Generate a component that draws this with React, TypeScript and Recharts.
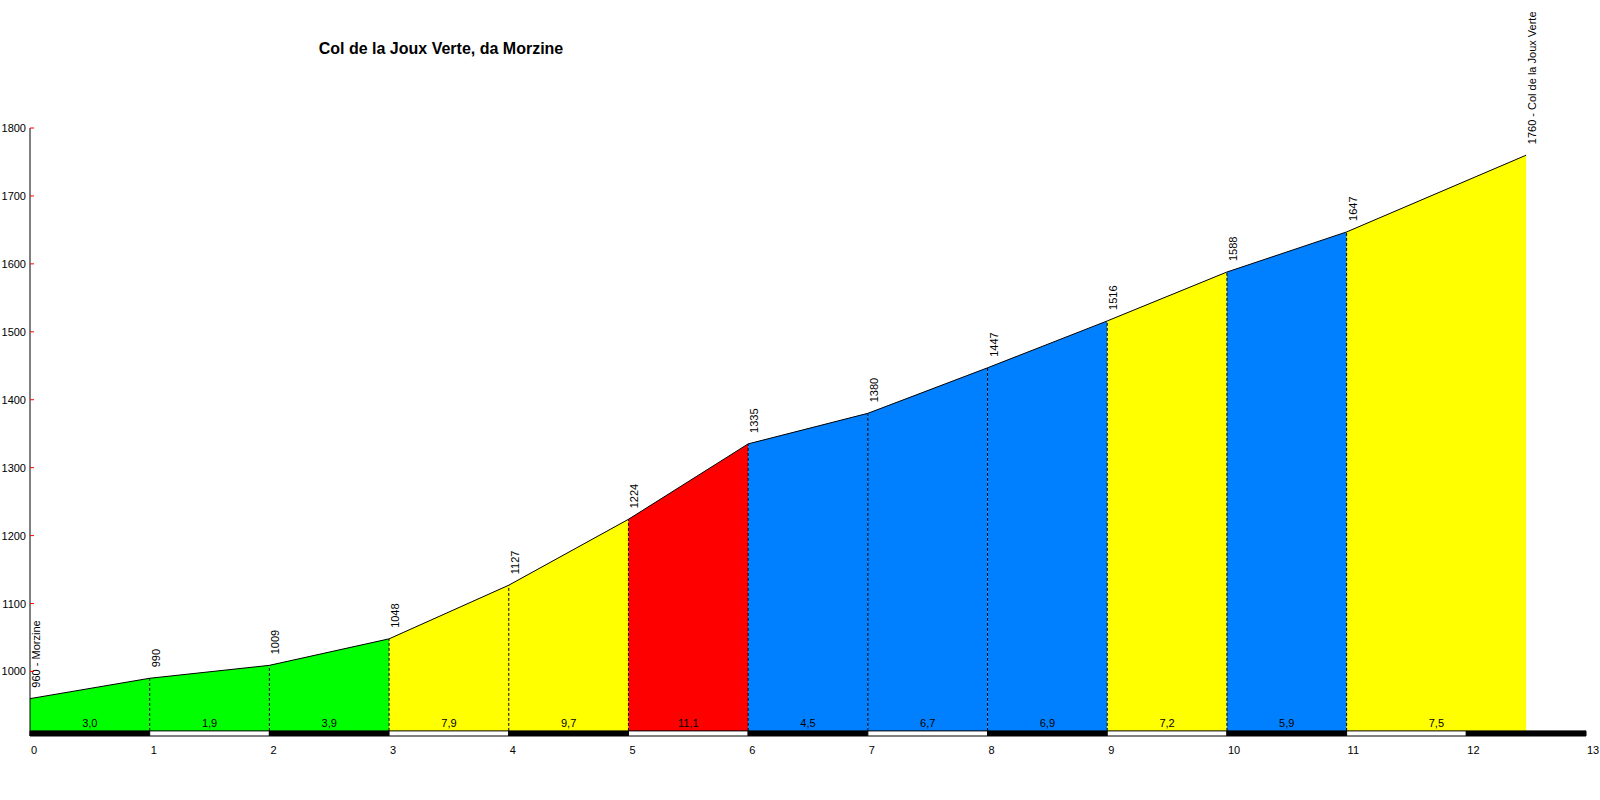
import { ComposedChart, Area, Line, Scatter, XAxis, YAxis, ReferenceLine, ReferenceArea } from 'recharts';

const KM = [0, 1, 2, 3, 4, 5, 6, 7, 8, 9, 10, 11, 12.5];
const ELEV = [960, 990, 1009, 1048, 1127, 1224, 1335, 1380, 1447, 1516, 1588, 1647, 1760];
const PLACES = ['Morzine', '', '', '', '', '', '', '', '', '', '', '', 'Col de la Joux Verte'];
const GRADIENTS = ['3,0', '1,9', '3,9', '7,9', '9,7', '11,1', '4,5', '6,7', '6,9', '7,2', '5,9', '7,5'];
const SEG_COLORS = ['#00ff00', '#00ff00', '#00ff00', '#ffff00', '#ffff00', '#ff0000', '#0080ff', '#0080ff', '#0080ff', '#ffff00', '#0080ff', '#ffff00'];
const X_TICKS = [0, 1, 2, 3, 4, 5, 6, 7, 8, 9, 10, 11, 12, 13];
const Y_TICKS = [1000, 1100, 1200, 1300, 1400, 1500, 1600, 1700, 1800];

const FONT = '"Liberation Sans", Arial, sans-serif';
const Y_MIN = 905;
const BAR_TOP = 912.5;

const profile = KM.map((km, i) => ({ km, elev: ELEV[i], place: PLACES[i] }));
const segments = GRADIENTS.map((g, i) => ({
  color: SEG_COLORS[i],
  data: [profile[i], profile[i + 1]],
}));
const gradLabels = GRADIENTS.map((g, i) => ({ km: (KM[i] + KM[i + 1]) / 2, elev: BAR_TOP, label: g }));
const kmBlocks = X_TICKS.slice(0, -1).map((k, i) => ({ x1: k, x2: k + 1, fill: i % 2 === 0 ? '#000' : '#fff' }));

const YTick = ({ x, y, payload }: any) => (
  <g>
    <line x1={x} y1={y} x2={x + 4} y2={y} stroke="#ff0000" />
    <text x={x - 4} y={y} textAnchor="end" dominantBaseline="central" fontSize={11} fontFamily={FONT} fill="#000">
      {payload.value}
    </text>
  </g>
);

const XTick = ({ x, y, payload }: any) => (
  <text x={x + 1} y={y + 14} textAnchor="start" dominantBaseline="central" fontSize={11} fontFamily={FONT} fill="#000">
    {payload.value}
  </text>
);

// rotated elevation labels sitting above each point
const elevLabel = (props: any) => {
  const { cx, cy, index, payload } = props;
  const tx = cx + 10;
  const ty = cy - 11;
  const txt = payload.place ? `${payload.elev} - ${payload.place}` : `${payload.elev}`;
  return (
    <text key={`el-${index}`} x={tx} y={ty} transform={`rotate(-90, ${tx}, ${ty})`} textAnchor="start" fontSize={11} fontFamily={FONT} fill="#000">
      {txt}
    </text>
  );
};

const gradShape = (props: any) => (
  <text x={props.cx} y={props.cy - 3.5} textAnchor="middle" fontSize={11} fontFamily={FONT} fill="#000">
    {props.payload.label}
  </text>
);

export default function App() {
  return (
    <div style={{ position: 'absolute', left: 0, top: 0, width: 1600, height: 800, background: '#fff' }}>
      <div
        style={{
          position: 'absolute',
          left: 441,
          top: 49,
          transform: 'translate(-50%, -50%)',
          whiteSpace: 'nowrap',
          fontFamily: FONT,
          fontWeight: 'bold',
          fontSize: 16,
          color: '#000',
        }}
      >
        Col de la Joux Verte, da Morzine
      </div>
      <ComposedChart width={1600} height={800} margin={{ top: 128, right: 14, left: 0, bottom: 34 }}>
        <XAxis
          type="number"
          dataKey="km"
          domain={[0, 13]}
          ticks={X_TICKS}
          axisLine={false}
          tickLine={false}
          tickSize={0}
          tickMargin={0}
          tick={<XTick />}
          height={30}
        />
        <YAxis
          type="number"
          dataKey="elev"
          domain={[Y_MIN, 1800]}
          ticks={Y_TICKS}
          width={30}
          axisLine={{ stroke: '#000' }}
          tickLine={false}
          tickSize={0}
          tickMargin={0}
          tick={<YTick />}
        />
        {segments.map((s, i) => (
          <Area
            key={`seg-${i}`}
            data={s.data}
            dataKey="elev"
            type="linear"
            stroke="none"
            fill={s.color}
            fillOpacity={1}
            baseValue={BAR_TOP}
            isAnimationActive={false}
          />
        ))}
        {kmBlocks.map((b, i) => (
          <ReferenceArea key={`blk-${i}`} x1={b.x1} x2={b.x2} y1={Y_MIN} y2={BAR_TOP} fill={b.fill} fillOpacity={1} stroke="#000" strokeWidth={1} />
        ))}
        {profile.slice(1, -1).map((p, i) => (
          <ReferenceLine
            key={`dl-${i}`}
            segment={[{ x: p.km, y: BAR_TOP }, { x: p.km, y: p.elev }]}
            stroke="#000"
            strokeDasharray="3 2"
          />
        ))}
        <Line data={profile} dataKey="elev" type="linear" stroke="#000" strokeWidth={1} dot={elevLabel} activeDot={false} isAnimationActive={false} />
        <Scatter data={gradLabels} dataKey="elev" shape={gradShape} isAnimationActive={false} />
      </ComposedChart>
    </div>
  );
}
